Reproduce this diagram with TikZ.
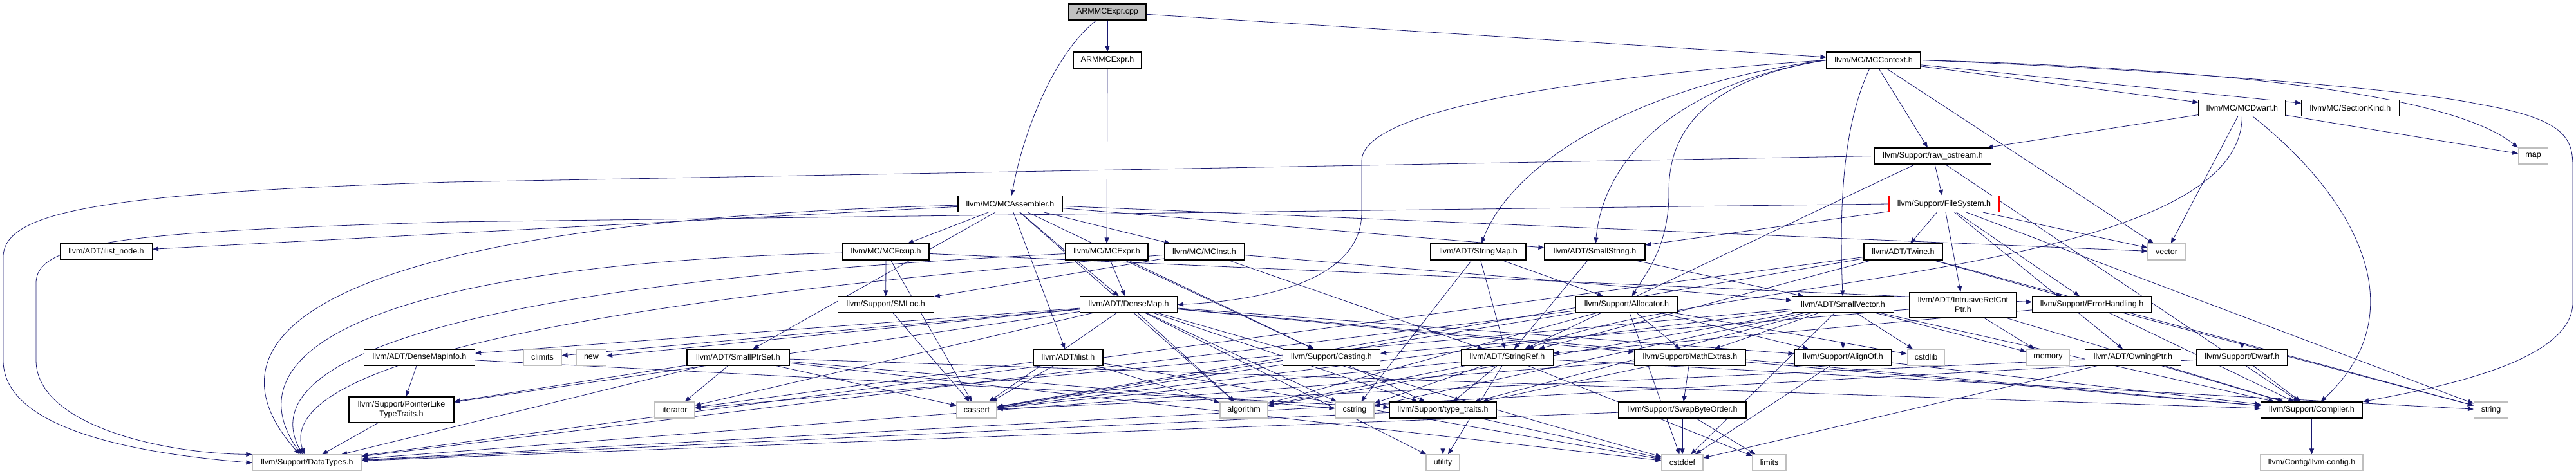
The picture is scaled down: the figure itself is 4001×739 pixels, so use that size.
\documentclass[tikz,border=0pt]{standalone}
\usepackage{fontspec}
\setmainfont{Liberation Sans}
\usetikzlibrary{arrows.meta,backgrounds}
\definecolor{edgeblue}{HTML}{191970}
\definecolor{sysgray}{HTML}{BFBFBF}

\begin{document}
\begin{tikzpicture}[
    x=1pt, y=1pt,
    box/.style={draw=black, line width=1.1pt, fill=white, minimum height=25pt,
                inner sep=0pt, align=center, font=\fontsize{12.5}{15}\selectfont},
    sysbox/.style={box, draw=sysgray},
    rootbox/.style={box, fill=sysgray},
    cutbox/.style={box, draw=red},
    arrow/.style={-{Triangle[length=9pt,width=7pt]}, color=edgeblue, line width=0.8pt}
]
\useasboundingbox (0,0) rectangle (4001,-739);

% row 1
\node[rootbox, minimum width=120pt] (cpp) at (1720,-18.5) {ARMMCExpr.cpp};
% row 2
\node[box, minimum width=106pt] (armh) at (1720,-93.5) {ARMMCExpr.h};
\node[box, minimum width=146pt] (ctx) at (2910,-93.5) {llvm/MC/MCContext.h};
% row 3
\node[box, minimum width=135pt] (dwarfmc) at (3482.5,-168) {llvm/MC/MCDwarf.h};
\node[box, minimum width=152pt] (skind) at (3650.5,-168) {llvm/MC/SectionKind.h};
% row 4
\node[box, minimum width=181pt] (raw) at (3002,-242.5) {llvm/Support/raw\_ostream.h};
\node[sysbox, minimum width=46pt] (map) at (3934.5,-242.5) {map};
% row 5
\node[box, minimum width=162pt] (asm) at (1569,-317) {llvm/MC/MCAssembler.h};
\node[cutbox, minimum width=171pt] (fs) at (3019.5,-317) {llvm/Support/FileSystem.h};
% row 6
\node[box, minimum width=143pt] (ilnode) at (165,-391) {llvm/ADT/ilist\_node.h};
\node[box, minimum width=134pt] (fixup) at (1376,-391.5) {llvm/MC/MCFixup.h};
\node[box, minimum width=128pt] (expr) at (1719,-391.5) {llvm/MC/MCExpr.h};
\node[box, minimum width=124pt] (inst) at (1870.5,-391.5) {llvm/MC/MCInst.h};
\node[box, minimum width=148pt] (smap) at (2296,-391.5) {llvm/ADT/StringMap.h};
\node[box, minimum width=156pt] (sstr) at (2477,-391.5) {llvm/ADT/SmallString.h};
\node[box, minimum width=122pt] (twine) at (2956,-391.5) {llvm/ADT/Twine.h};
\node[sysbox, minimum width=58pt] (vector) at (3365,-391.5) {vector};
% row 7
\node[box, minimum width=149pt] (smloc) at (1375.7,-473.5) {llvm/Support/SMLoc.h};
\node[box, minimum width=151pt] (dmap) at (1753,-473.5) {llvm/ADT/DenseMap.h};
\node[box, minimum width=159pt] (alloc) at (2526.5,-473.5) {llvm/Support/Allocator.h};
\node[box, minimum width=158pt] (svec) at (2862.5,-473.5) {llvm/ADT/SmallVector.h};
\node[box, minimum width=166pt, minimum height=39.5pt] (irc) at (3049,-474) {llvm/ADT/IntrusiveRefCnt\\Ptr.h};
\node[box, minimum width=185pt] (errh) at (3249,-473.5) {llvm/Support/ErrorHandling.h};
% row 8
\node[box, minimum width=172pt] (dmi) at (651.5,-555.5) {llvm/ADT/DenseMapInfo.h};
\node[sysbox, minimum width=59pt] (climits) at (842.5,-555.5) {climits};
\node[sysbox, minimum width=46pt] (new) at (918.5,-555.5) {new};
\node[box, minimum width=159pt] (sps) at (1146.5,-555.5) {llvm/ADT/SmallPtrSet.h};
\node[box, minimum width=108pt] (ilist) at (1659,-555.5) {llvm/ADT/ilist.h};
\node[box, minimum width=151pt] (cast) at (2068,-555.5) {llvm/Support/Casting.h};
\node[box, minimum width=143pt] (sref) at (2341,-555.5) {llvm/ADT/StringRef.h};
\node[box, minimum width=172pt] (mathx) at (2625,-555.5) {llvm/Support/MathExtras.h};
\node[box, minimum width=151pt] (alignof) at (2862.5,-555.5) {llvm/Support/AlignOf.h};
\node[sysbox, minimum width=58pt] (cstdlib) at (2991.5,-555.5) {cstdlib};
\node[sysbox, minimum width=67pt] (memory) at (3181,-555.5) {memory};
\node[box, minimum width=149pt] (owning) at (3313,-555.5) {llvm/ADT/OwningPtr.h};
\node[box, minimum width=141pt] (sdwarf) at (3482.4,-555.5) {llvm/Support/Dwarf.h};
% row 9
\node[box, minimum width=163pt, minimum height=40pt] (plt) at (623.5,-637) {llvm/Support/PointerLike\\TypeTraits.h};
\node[sysbox, minimum width=62pt] (iterator) at (1048,-637.5) {iterator};
\node[sysbox, minimum width=62pt] (cassert) at (1517,-637.5) {cassert};
\node[sysbox, minimum width=74pt] (algorithm) at (1932,-637.5) {algorithm};
\node[sysbox, minimum width=60pt] (cstring) at (2104,-637.5) {cstring};
\node[box, minimum width=166pt] (ttraits) at (2241,-637.5) {llvm/Support/type\_traits.h};
\node[box, minimum width=198pt] (swap) at (2613,-637.5) {llvm/Support/SwapByteOrder.h};
\node[box, minimum width=158pt] (compiler) at (3590.5,-637.5) {llvm/Support/Compiler.h};
\node[sysbox, minimum width=53pt] (string) at (3869,-637.5) {string};
% row 10
\node[sysbox, minimum width=170pt] (datatypes) at (477,-719.5) {llvm/Support/DataTypes.h};
\node[sysbox, minimum width=52pt] (utility) at (2241,-719.5) {utility};
\node[sysbox, minimum width=64pt] (cstddef) at (2613,-719.5) {cstddef};
\node[sysbox, minimum width=52pt] (limits) at (2748,-719.5) {limits};
\node[sysbox, minimum width=159pt] (config) at (3590.5,-719.5) {llvm/Config/llvm-config.h};

\begin{pgfonlayer}{background}
\fill[white] (0,0) rectangle (4001,-739);

% include edges
\foreach \s/\t in {cpp/armh, cpp/ctx, armh/expr,
    asm/fixup, asm/inst, asm/dmap, asm/ilist, asm/sps, asm/sstr, asm/cast,
    asm/algorithm, asm/vector, asm/ilnode,
    ctx/dwarfmc, ctx/skind, ctx/raw, ctx/vector,
    fixup/smloc, fixup/cassert, fixup/errh,
    expr/dmap, expr/cast,
    inst/smloc, inst/sref, inst/svec,
    smloc/cassert,
    smap/sref, smap/alloc, smap/cstring,
    sstr/svec, sstr/sref,
    dwarfmc/raw, dwarfmc/vector, dwarfmc/sdwarf, dwarfmc/map,
    raw/fs, raw/sref, raw/compiler,
    fs/twine, fs/irc, fs/sstr, fs/errh, fs/owning, fs/vector, fs/string,
    dmap/dmi, dmap/alignof, dmap/compiler, dmap/mathx, dmap/plt, dmap/ttraits,
    dmap/algorithm, dmap/cassert, dmap/climits, dmap/cstddef, dmap/cstring,
    dmap/iterator, dmap/new, dmap/utility,
    alloc/alignof, alloc/datatypes, alloc/mathx, alloc/algorithm, alloc/cassert,
    alloc/cstddef, alloc/cstdlib,
    svec/alignof, svec/compiler, svec/mathx, svec/ttraits, svec/algorithm,
    svec/cassert, svec/cstddef, svec/cstdlib, svec/cstring, svec/iterator, svec/memory,
    twine/sref, twine/datatypes, twine/errh, twine/cassert, twine/string,
    irc/cast, irc/compiler, irc/memory,
    errh/sref, errh/compiler, errh/string,
    dmi/plt, dmi/ttraits,
    sps/compiler, sps/datatypes, sps/plt, sps/cassert, sps/cstddef, sps/cstring, sps/iterator,
    ilist/algorithm, ilist/cassert, ilist/cstddef, ilist/iterator,
    cast/ttraits, cast/cassert,
    sref/ttraits, sref/algorithm, sref/cassert, sref/cstring, sref/limits,
    sref/string, sref/utility,
    mathx/compiler, mathx/swap, mathx/ttraits, mathx/datatypes,
    alignof/compiler, alignof/cstddef,
    owning/compiler, owning/cassert, owning/cstddef,
    sdwarf/datatypes, sdwarf/compiler,
    plt/datatypes,
    ttraits/datatypes, ttraits/cstddef, ttraits/utility,
    swap/datatypes, swap/cstddef, swap/limits,
    compiler/config} {
    \draw[arrow] (\s) -- (\t);
}

% routed edges
\draw[arrow] (cpp) .. controls (1640,-80) and (1590,-200) .. (asm);
\draw[arrow] (ctx.east) .. controls (3400,-105) and (3800,-140) .. (map.north west);
\draw[arrow] (ctx.west) .. controls (2450,-120) and (2115,-170) .. (2115,-250)
    -- (2115,-330) .. controls (2115,-440) and (1950,-468) .. (dmap.east);
\draw[arrow] (ctx.west) .. controls (2600,-130) and (2592,-250) .. (2592,-300)
    .. controls (2592,-380) and (2560,-420) .. (alloc);
\draw[arrow] (ctx.west) .. controls (2600,-130) and (2490,-250) .. (sstr);
\draw[arrow] (ctx.west) .. controls (2550,-130) and (2350,-250) .. (smap);
\draw[arrow] (ctx) .. controls (2860,-200) and (2857,-330) .. (svec);
\draw[arrow] (ctx.east) .. controls (3400,-110) and (3750,-140) .. (3850,-162)
    .. controls (3985,-185) and (3996,-215) .. (3996,-260) -- (3996,-470)
    .. controls (3996,-560) and (3800,-600) .. (compiler.north east);
\draw[arrow] (raw.west) -- (700,-283) .. controls (150,-300) and (5,-330) .. (5,-400)
    -- (5,-560) .. controls (5,-650) and (150,-700) .. (datatypes.west);
\draw[arrow] (fs.west) -- (700,-345) .. controls (200,-360) and (56,-375) .. (56,-440)
    -- (56,-560) .. controls (56,-660) and (250,-705) .. (datatypes.north west);
\draw[arrow] (asm) .. controls (500,-345) and (300,-520) .. (datatypes);
\draw[arrow] (fixup) .. controls (600,-410) and (350,-540) .. (datatypes);
\draw[arrow] (expr) .. controls (700,-440) and (390,-560) .. (datatypes);
\draw[arrow] (inst) .. controls (800,-475) and (430,-580) .. (datatypes);
\draw[arrow] (dwarfmc) .. controls (3650,-300) and (3760,-480) .. (compiler);
\draw[arrow] (dwarfmc) .. controls (3480,-430) and (2650,-430) .. (sref);
\end{pgfonlayer}
\end{tikzpicture}
\end{document}
